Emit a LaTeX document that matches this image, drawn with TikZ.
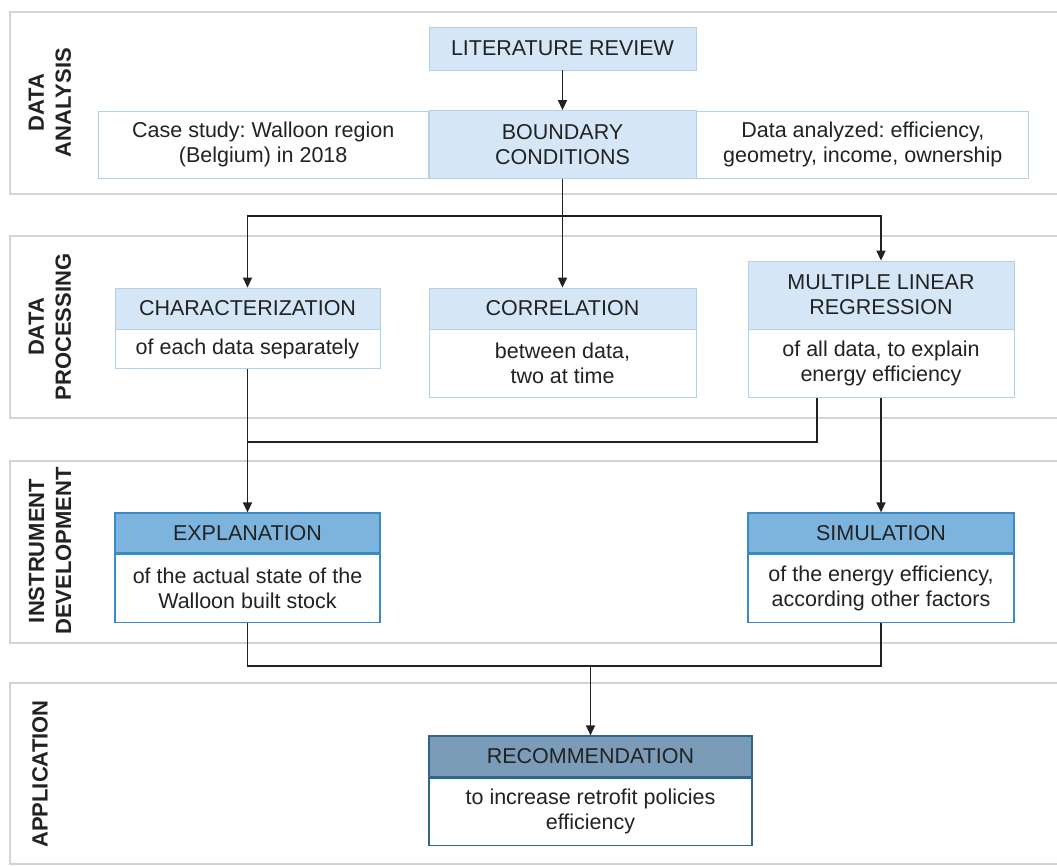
\documentclass[tikz,border=0pt]{standalone}
\usepackage{fontspec}
\setmainfont{Liberation Sans}
\frenchspacing
\usetikzlibrary{arrows.meta,positioning}
\definecolor{hdl}{HTML}{D5E7F6}
\definecolor{bdl}{HTML}{B3D2EA}
\definecolor{hdm}{HTML}{7DB4DE}
\definecolor{bdm}{HTML}{3A8AC4}
\definecolor{hdr}{HTML}{7A9CB8}
\definecolor{bdr}{HTML}{2F6690}
\definecolor{bandc}{HTML}{D4D4D4}
\definecolor{txt}{HTML}{222222}
\newcommand{\bx}{\fontsize{21.5}{25}\selectfont}

\begin{document}
\begin{tikzpicture}[x=1pt,y=-1pt,
  band/.style={draw=bandc,line width=1.5pt},
  sec/.style={font=\fontsize{22}{27}\selectfont\bfseries,rotate=90,align=center,text=txt},
  head/.style={draw=bdl,fill=hdl,line width=0.8pt,align=center,font=\bx,text=txt,inner sep=0pt},
  body/.style={draw=bdl,fill=white,line width=0.8pt,align=center,font=\bx,text=txt,inner sep=0pt},
  midh/.style={head,fill=hdm,draw=bdm,line width=1.2pt},
  midb/.style={body,draw=bdm,line width=1.2pt},
  rech/.style={head,fill=hdr,draw=bdr,line width=1.2pt},
  recb/.style={body,draw=bdr,line width=1.2pt},
  ar/.style={-{Triangle[length=10pt,width=9pt]},line width=1.5pt,draw=txt},
  ln/.style={line width=1.5pt,draw=txt}]
\useasboundingbox (0,0) rectangle (1057,866);
\clip (0,0) rectangle (1057,866);
\draw[band] (10,12) rectangle (1070,194);
\draw[band] (10,236) rectangle (1070,418);
\draw[band] (10,461) rectangle (1070,643);
\draw[band] (10,683) rectangle (1070,864);
\node[sec] (da) at (50,102.5) {DATA\\ANALYSIS};
\node[sec] (dp) at (50,327) {DATA\\PROCESSING};
\node[sec] (id) at (50,551) {INSTRUMENT\\DEVELOPMENT};
\node[sec] (ap) at (40,774) {APPLICATION};
\node[head,minimum width=267pt,minimum height=43pt] (lit) at (562.5,48.5) {LITERATURE REVIEW};
\node[head,minimum width=267pt,minimum height=68pt] (bound) at (562.5,144.5) {BOUNDARY\\CONDITIONS};
\node[body,minimum width=330pt,minimum height=67pt,left=0pt of bound] (case) {Case study: Walloon region\\(Belgium) in 2018};
\node[body,minimum width=332pt,minimum height=67pt,right=0pt of bound] (anl) {Data analyzed: efficiency,\\geometry, income, ownership};
\node[head,minimum width=265pt,minimum height=41pt] (charh) at (247.5,308.5) {CHARACTERIZATION};
\node[body,minimum width=265pt,minimum height=39pt,below=0pt of charh] (charb) {of each data separately};
\node[head,minimum width=267pt,minimum height=41pt] (corrh) at (562.5,308.5) {CORRELATION};
\node[body,minimum width=267pt,minimum height=68pt,below=0pt of corrh] (corrb) {between data,\\two at time};
\node[head,minimum width=266pt,minimum height=68pt] (mlrh) at (881,295) {MULTIPLE LINEAR\\REGRESSION};
\node[body,minimum width=266pt,minimum height=68pt,below=0pt of mlrh] (mlrb) {of all data, to explain\\energy efficiency};
\node[midh,minimum width=265pt,minimum height=40pt] (explh) at (247.5,533) {EXPLANATION};
\node[midb,minimum width=265pt,minimum height=68pt,below=0pt of explh] (explb) {of the actual state of the\\Walloon built stock};
\node[midh,minimum width=266pt,minimum height=40pt] (simh) at (881,533) {SIMULATION};
\node[midb,minimum width=266pt,minimum height=68pt,below=0pt of simh] (simb) {of the energy efficiency,\\according other factors};
\node[rech,minimum width=323pt,minimum height=41pt] (rech) at (590.5,756.5) {RECOMMENDATION};
\node[recb,minimum width=323pt,minimum height=67pt,below=0pt of rech] (recb) {to increase retrofit policies\\efficiency};
\coordinate (split) at (562.5,216);
\coordinate (join) at (247.5,442);
\coordinate (merge) at (590.5,666);
\draw[ar] (lit) -- (bound);
\draw[ln] (bound) -- (split);
\draw[ar] (split) -| (charh);
\draw[ar] (split) -- (corrh);
\draw[ar] (split) -| (mlrh);
\draw[ar] (charb) -- (explh);
\draw[ln] ([xshift=-64pt]mlrb.south) |- (join);
\draw[ar] (mlrb) -- (simh);
\draw[ln] (explb.south) |- (merge) -| (simb.south);
\draw[ar] (merge) -- (rech);
\end{tikzpicture}
\end{document}
